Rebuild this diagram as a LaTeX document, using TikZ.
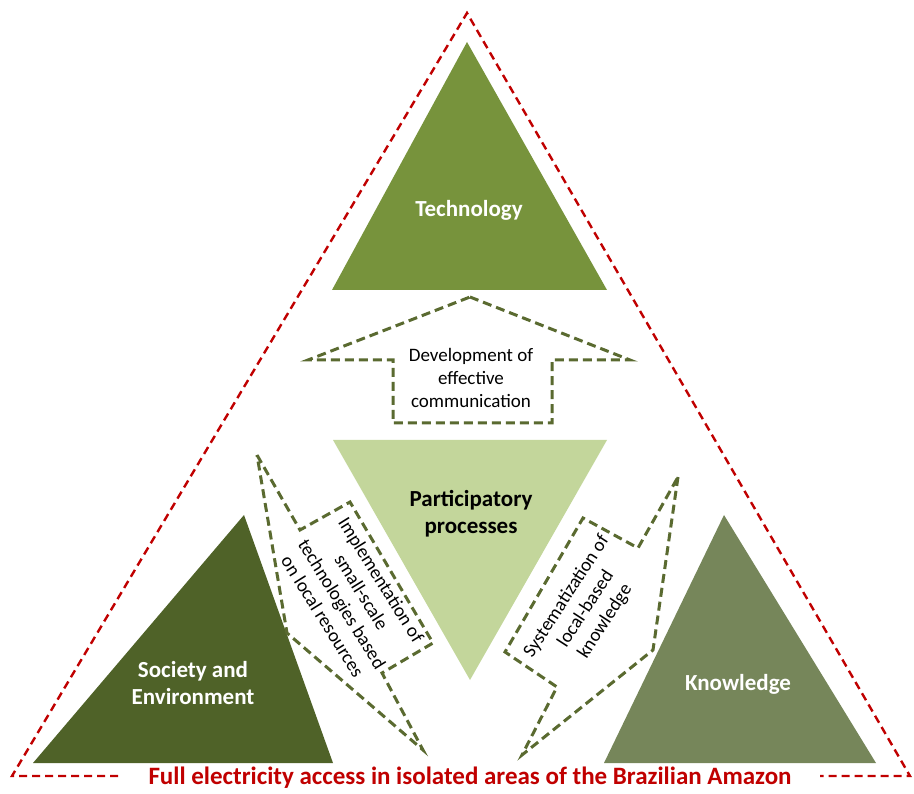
\documentclass[tikz,border=0pt]{standalone}
\usepackage{fontspec}
\setmainfont{Carlito}
\definecolor{techgreen}{HTML}{77933C}
\definecolor{partgreen}{HTML}{C3D69B}
\definecolor{socgreen}{HTML}{4F6228}
\definecolor{knowgreen}{HTML}{76865A}
\definecolor{dashgreen}{HTML}{5A6A30}
\definecolor{darkred}{HTML}{C00000}
\tikzset{
  redline/.style={draw=darkred, line width=2.4pt, dash pattern=on 8pt off 5pt},
  arrowline/.style={draw=dashgreen, line width=3pt, dash pattern=on 9pt off 5pt, line join=miter, fill=white},
  bigtext/.style={font=\fontsize{23}{27}\selectfont\bfseries, align=center},
  smalltext/.style={font=\fontsize{19}{23}\selectfont, align=center, text=black, inner sep=0pt},
}
\begin{document}
\begin{tikzpicture}[x=1pt,y=-1pt]
\useasboundingbox (0,0) rectangle (914,794);
% red frame
\coordinate (apex) at (467,13);
\coordinate (bl) at (12,776);
\coordinate (br) at (910,776);
\coordinate (blend) at (118,776);
\coordinate (brend) at (820,776);
\draw[redline] (blend) -- (bl) -- (apex) -- (br) -- (brend);
\node[font=\fontsize{25}{30}\selectfont\bfseries, text=darkred] (goal) at (470,778) {Full electricity access in isolated areas of the Brazilian Amazon};
% triangles
\fill[techgreen] (467,42) -- (607,290) -- (332,290) -- cycle;
\node[bigtext, text=white] (tech) at (469,210) {Technology};
\fill[partgreen] (333,440) -- (607,440) -- (470,680) -- cycle;
\node[bigtext, text=black] (part) at (471,514) {Participatory\\processes};
\fill[socgreen] (244,515) -- (333,763) -- (33,763) -- cycle;
\node[bigtext, text=white] (soc) at (193,683) {Society and\\Environment};
\fill[knowgreen] (724,515) -- (876,763) -- (604,763) -- cycle;
\node[bigtext, text=white] (know) at (738,684) {Knowledge};
% up arrow
\draw[arrowline] (470,297) -- (630,360) -- (552,360) -- (552,423) -- (393,423) -- (393,360) -- (308,360) -- cycle;
\node[smalltext] (dev) at (471,378) {Development of\\effective\\communication};
% left arrow
\draw[arrowline] (257,455) -- (300,530) -- (350,502) -- (433,643) -- (382,673) -- (423,750) -- (287,633) -- cycle;
\node[smalltext, rotate=-58] (impl) at (352,598) {Implementation of\\small-scale\\technologies based\\on local resources};
% right arrow
\draw[arrowline] (678,477) -- (653,650) -- (522,755) -- (557,687) -- (505,652) -- (583,518) -- (638,548) -- cycle;
\node[smalltext, rotate=57] (sys) at (586,609) {Systematization of\\local-based\\knowledge};
\end{tikzpicture}
\end{document}
